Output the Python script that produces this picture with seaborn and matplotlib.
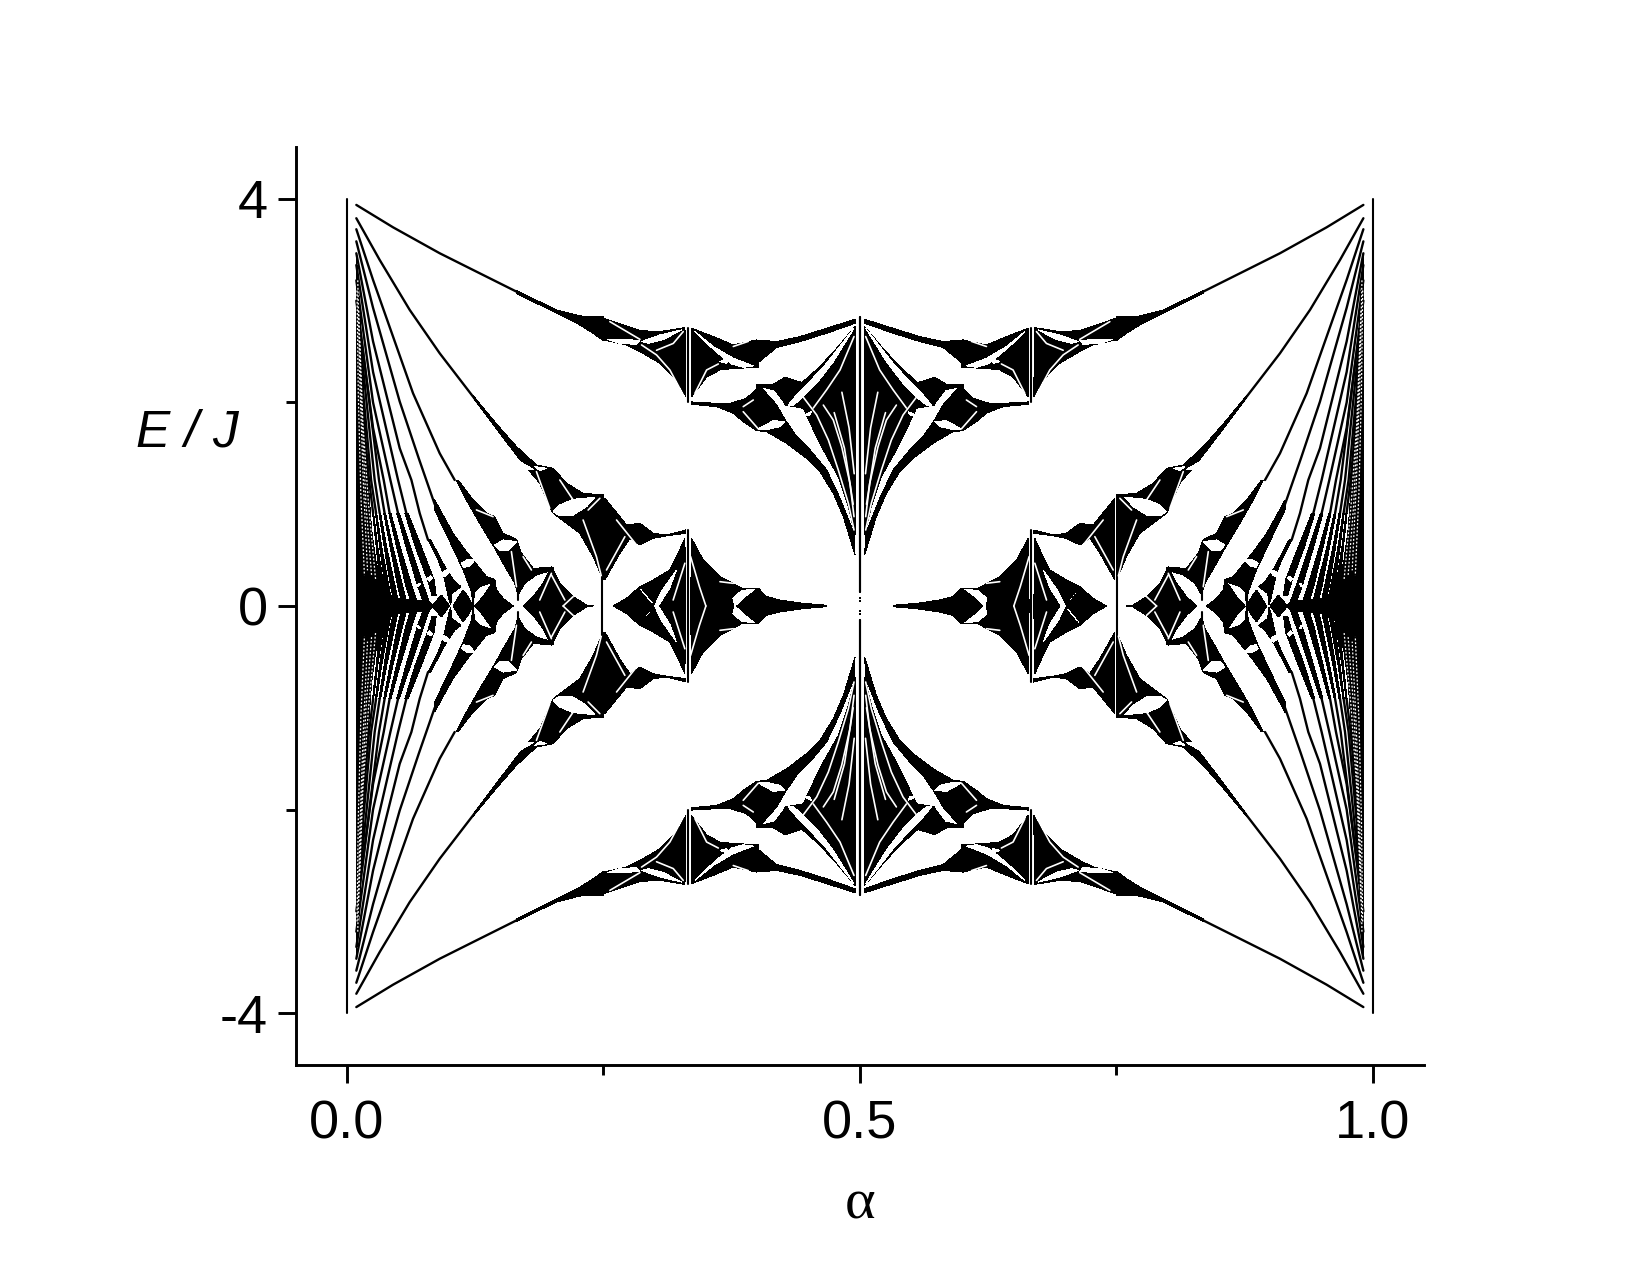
import matplotlib
matplotlib.use("Agg")
import matplotlib.pyplot as plt
import pandas as pd
import seaborn as sns

# The picture is symmetric, so each one is also drawn flipped in alpha and E.

# thin bands running out of the corner
level_0 = [(.0091, 3.941), (.0449, 3.721), (.0904, 3.466), (.1229, 3.302), (.1652, 3.089)]
level_1 = [(.0091, 3.81), (.0319, 3.4), (.0611, 2.91), (.0904, 2.483), (.1229, 2.057), (.1457, 1.763)]
level_2 = [(.0091, 3.702), (.0254, 3.204), (.0449, 2.647), (.0644, 2.09), (.0904, 1.5), (.105, 1.238)]
level_3 = [(.0091, 3.583), (.0254, 2.93), (.0514, 2.009), (.07, 1.45), (.0855, 1.0)]
level_4 = [(.0091, 3.466), (.0254, 2.6), (.0514, 1.55), (.0628, 1.238), (.0709, .911), (.079, .649)]
level_5 = [(.0091, 3.35), (.0254, 2.3), (.0498, 1.238), (.0579, .911)]
level_6 = [(.0091, 3.2), (.0254, 2.0), (.0423, 1.238), (.0498, .911)]
level_7 = [(.0091, 3.0), (.0254, 1.75), (.0358, 1.238), (.0416, .911)]
level_8 = [(.012, 2.8), (.0312, 1.238), (.0367, .911)]
level_9 = [(.015, 2.4), (.027, 1.238), (.0319, .911)]
level_10 = [(.014, 2.3), (.0235, 1.238), (.0284, .911)]
level_11 = [(.013, 2.2), (.0215, 1.238), (.0255, .911)]

# the same bands where they widen near E = 0
ribbon_5 = [(.0565, .911), (.0665, .583), (.0785, .255), (.083, .1), (.087, .1), (.085, .255), (.0725, .583), (.0595, .911)]
ribbon_6 = [(.0485, .911), (.0575, .583), (.069, .19), (.074, .05), (.08, .05), (.075, .19), (.062, .583), (.051, .911)]
ribbon_7 = [(.0408, .911), (.0483, .583), (.0575, .19), (.062, .05), (.068, .05), (.0635, .19), (.0518, .583), (.0428, .911)]
ribbon_8 = [(.0358, .911), (.042, .583), (.0495, .19), (.053, .05), (.058, .05), (.0545, .19), (.0447, .583), (.0375, .911)]
ribbon_9 = [(.0312, .911), (.0362, .583), (.0425, .19), (.046, .05), (.05, .05), (.047, .19), (.0387, .583), (.0328, .911)]
ribbon_10 = [(.0278, .911), (.0318, .583), (.037, .19), (.04, .05), (.0435, .05), (.041, .19), (.0338, .583), (.029, .911)]
ribbon_11 = [(.025, .911), (.0285, .583), (.0325, .19), (.035, .05), (.0385, .05), (.036, .19), (.03, .583), (.026, .911)]

# black lobes
wing_top_a = [(.1652, 3.099), (.2042, 2.909), (.227, 2.85), (.2498, 2.84), (.2498, 2.608), (.24, 2.68),
              (.227, 2.762), (.201, 2.893), (.1652, 3.073)]
wing_top_b = [(.2504, 2.827), (.2693, 2.762), (.2856, 2.706), (.3051, 2.696), (.3295, 2.735), (.3305, 2.057),
              (.3213, 2.221), (.3051, 2.385), (.2856, 2.5), (.2725, 2.565), (.2504, 2.614)]
wing_top_c = [(.3359, 2.729), (.3571, 2.647), (.3766, 2.565), (.3993, 2.614), (.401, 2.346), (.3766, 2.333),
              (.3636, 2.32), (.3506, 2.248), (.3359, 2.057)]
wing_top_d = [(.3993, 2.614), (.4189, 2.598), (.4416, 2.647), (.4676, 2.729), (.4953, 2.817), (.4953, 2.778),
              (.4676, 2.68), (.4416, 2.598), (.4189, 2.541), (.4059, 2.434), (.3993, 2.378)]
wing_low_left = [(.3993, 2.179), (.4059, 2.123), (.4189, 1.975), (.4273, 1.828), (.4384, 1.664), (.4514, 1.533),
                 (.4676, 1.337), (.4807, 1.058), (.4943, .714), (.4953, .501), (.4839, .878), (.4741, 1.107),
                 (.4611, 1.32), (.4481, 1.451), (.4286, 1.599), (.4091, 1.713), (.3993, 1.723), (.3863, 1.812),
                 (.3766, 1.894), (.3603, 1.959), (.3359, 1.982), (.3359, 2.005), (.3717, 1.985), (.3895, 2.041),
                 (.3993, 2.133)]
wing_sliver = [(.3993, 2.179), (.4156, 2.179), (.427, 2.247), (.428, 1.975), (.417, 2.123), (.4026, 2.156)]
wing_centre = [(.427, 2.247), (.4436, 2.195), (.4611, 2.352), (.4774, 2.532), (.4953, 2.745), (.4953, .698),
               (.4888, .976), (.479, 1.271), (.4644, 1.533), (.4547, 1.73), (.4449, 1.943), (.427, 1.975)]
wing_b_left = [(.1229, 2.067), (.1457, 1.79), (.1652, 1.566), (.1847, 1.386), (.201, 1.353), (.214, 1.206),
               (.2302, 1.107), (.2498, 1.091), (.2498, .256), (.24, .485), (.227, .714), (.201, .911),
               (.1977, .976), (.188, 1.206), (.1701, 1.419), (.1457, 1.74), (.1229, 2.047)]
wing_b_right = [(.2514, 1.058), (.266, .878), (.2725, .796), (.2856, .812), (.2986, .714), (.3116, .698),
                (.3305, .747), (.3305, .714), (.3116, .69), (.2986, .665), (.2856, .6), (.2758, .665),
                (.266, .518), (.2514, .256)]
wing_2 = [(.1083, 1.238), (.1229, 1.042), (.1359, .911), (.1441, .878), (.1522, .714), (.1652, .655),
          (.1701, .518), (.1815, .37), (.201, .38), (.201, .354), (.1847, .305), (.1733, .223), (.1668, .108),
          (.1636, .223), (.1522, .419), (.1441, .567), (.1294, .812), (.1164, 1.042), (.1067, 1.238)]
wing_3 = [(.0855, 1.042), (.1034, .714), (.1164, .534), (.1229, .452), (.1359, .288), (.1441, .262),
          (.1441, .24), (.1294, .19), (.1245, .141), (.1229, 0), (.1213, .141), (.1132, .354), (.1034, .567),
          (.0855, .943)]
wing_4 = [(.0816, .649), (.092, .452), (.0969, .36), (.105, .239), (.1111, .19), (.1024, .124), (.1011, .01),
          (.0992, .075), (.0937, .321), (.0888, .452), (.079, .649)]

# black lobes sitting on E = 0
node_a = [(.1245, 0), (.1327, .092), (.1441, .262), (.1457, .157), (.1522, .075), (.162, 0)]
node_b = [(.1717, 0), (.1815, .092), (.1912, .223), (.1993, .387), (.2075, .223), (.2205, .092), (.2335, .01), (.24, 0)]
node_c = [(.2595, 0), (.2725, .075), (.2855, .19), (.2986, .256), (.3148, .354), (.3213, .485), (.3294, .665), (.3304, 0)]
node_d = [(.3359, .665), (.3473, .452), (.3636, .288), (.3733, .239), (.3847, .174), (.401, .174), (.4091, .092),
          (.4221, .059), (.4449, .026), (.4676, .007), (.4676, 0), (.335, 0)]
node_e = [(.1034, 0), (.1099, .108), (.1132, .157), (.118, .092), (.1229, 0)]
node_f = [(.083, 0), (.092, .108), (.1, 0)]
dense_fan = [(.0091, 0), (.0091, 3.45), (.012, 3.0), (.0145, 2.5), (.0175, 1.8), (.0205, 1.24), (.024, .75),
             (.028, .45), (.035, .15), (.05, .07), (.0628, .06), (.079, .05), (.0848, 0)]

# white holes cut from the lobes
eye_top_a = [(.2537, 2.62), (.2693, 2.62), (.2856, 2.608), (.2823, 2.571), (.266, 2.58)]
eye_top_b = [(.2872, 2.598), (.3051, 2.663), (.3262, 2.713), (.3083, 2.617), (.2937, 2.581)]
bow_top = [(.3392, 2.696), (.3571, 2.549), (.3766, 2.434), (.3961, 2.359), (.3863, 2.346), (.375, 2.378),
           (.3636, 2.467), (.3506, 2.582)]
eye_small = [(.3636, 2.401), (.3733, 2.441), (.3701, 2.385)]
eye_low = [(.401, 1.74), (.4156, 1.821), (.427, 1.811), (.4221, 1.762), (.4075, 1.73)]
bow_centre = [(.4302, 1.975), (.4384, 2.074), (.4481, 2.172), (.4676, 2.385), (.4943, 2.729), (.4741, 2.401),
              (.4579, 2.188), (.4433, 2.041), (.4345, 1.969)]
eye_centre = [(.4433, 1.867), (.453, 1.91), (.4514, 1.877)]
blob_b = [(.201, .927), (.2075, .993), (.2205, 1.048), (.2416, 1.068), (.2335, .976), (.2205, .894), (.206, .894)]
eye_b1 = [(.1701, 1.409), (.1815, 1.343), (.1766, 1.343)]
eye_b2 = [(.1831, 1.369), (.1945, 1.353), (.188, 1.33)]
eye_2 = [(.1441, .6), (.1522, .649), (.1652, .632), (.1571, .55), (.1489, .544)]
eye_3 = [(.1115, .419), (.118, .459), (.1245, .452), (.1196, .393), (.1138, .38)]
eye_4 = [(.092, .321), (.0969, .354), (.1, .337), (.0969, .298), (.093, .288)]
eye_5 = [(.078, .27), (.0815, .295), (.083, .275), (.0805, .245)]
eye_6 = [(.0685, .2), (.0705, .225), (.0715, .215), (.0695, .19)]
leaf_d = [(.3762, .075), (.3847, .151), (.3977, .167), (.388, .092), (.3782, 0)]
petal_c1 = [(.2999, 0), (.3064, .14), (.321, .35), (.3148, .18), (.3035, 0)]
petal_c2 = [(.2999, 0), (.2855, .175), (.2925, .09)]

# thin white cracks
crack_1 = [(.2563, 2.794), (.2856, 2.62)]
crack_2 = [(.2872, 2.565), (.3018, 2.467), (.3148, 2.319), (.3278, 2.074)]
crack_3 = [(.3018, 2.513), (.3181, 2.58), (.3278, 2.696)]
crack_4 = [(.3392, 2.09), (.3506, 2.319), (.362, 2.378)]
crack_5 = [(.3766, 2.55), (.3912, 2.6)]
crack_6 = [(.3863, 1.909), (.401, 1.74)]
crack_7 = [(.3863, 1.959), (.3961, 2.024)]
crack_8 = [(.4546, 1.945), (.4676, 2.124), (.4807, 2.32), (.4943, 2.647)]
crack_9 = [(.4449, 2.051), (.4579, 1.877), (.4693, 1.631), (.479, 1.336), (.4888, 1.009), (.4943, .747)]
crack_10 = [(.4644, 1.974), (.4741, 1.827), (.4823, 1.565), (.4904, 1.205), (.4943, .878)]
crack_11 = [(.1847, 1.32), (.1977, .96)]
crack_12 = [(.2075, 1.238), (.2205, 1.042)]
crack_13 = [(.2351, .943), (.2465, 1.058)]
crack_14 = [(.2302, .845), (.2432, .485), (.2481, .288)]
crack_15 = [(.2628, .845), (.2823, .6)]
crack_16 = [(.2709, .681), (.253, .354)]
crack_17 = [(.1262, .944), (.1424, .878)]
crack_18 = [(.1603, .534), (.1652, .19)]
crack_19 = [(.1717, .485), (.1798, .354)]
crack_20 = [(.1993, .321), (.1879, .059)]
crack_21 = [(.1993, .305), (.2124, .059)]
crack_22 = [(.3294, .42), (.318, .059)]
crack_23 = [(.335, .485), (.3436, .19), (.3499, 0)]
crack_24 = [(.3636, .239), (.3766, .223)]
crack_25 = [(.2107, 0), (.2205, .092)]
crack_26 = [(.475, 1.9), (.485, 1.55), (.4935, 1.0)]
crack_27 = [(.4825, 2.1), (.4895, 1.75), (.4945, 1.3)]

# dotted white streaks in the dense fan
streak_1 = [(.0105, 3.2), (.0125, 2.2), (.016, 1.2), (.02, .35)]
streak_2 = [(.0115, 2.9), (.014, 2.0), (.0185, 1.0), (.024, .3)]
streak_3 = [(.0125, 2.6), (.0155, 1.8), (.021, 1.0), (.028, .25)]
streak_4 = [(.0098, 3.1), (.011, 2.1), (.0135, 1.1), (.017, .3)]

# straight bars: alpha, E from, E to
bar_alpha = [0.0, .4999, .3327, .3327, .2491, .1668, .1229]
bar_from = [0.0, .14, 2.0, 0.0, 0.0, .059, 0.0]
bar_to = [4.0, 2.837, 2.73, .747, .288, .157, .14]

x_major = [0.0, 0.5, 1.0]
x_minor = [0.25, 0.75]
x_labels = ["0.0", "0.5", "1.0"]
y_major = [-4, 0, 4]
y_minor = [-2, 2]
y_labels = ["-4", "0", "4"]

black_lobes = [wing_top_a, wing_top_b, wing_top_c, wing_top_d, wing_low_left, wing_sliver, wing_centre,
               wing_b_left, wing_b_right, wing_2, wing_3, wing_4, node_a, node_b, node_c, node_d, node_e,
               node_f, dense_fan, ribbon_5, ribbon_6, ribbon_7, ribbon_8, ribbon_9, ribbon_10, ribbon_11]
white_holes = [eye_top_a, eye_top_b, bow_top, eye_small, eye_low, bow_centre, eye_centre, blob_b, eye_b1,
               eye_b2, eye_2, eye_3, eye_4, eye_5, eye_6, leaf_d, petal_c1, petal_c2]
black_lines = [level_0, level_1, level_2, level_3, level_4, level_5, level_6, level_7, level_8, level_9,
               level_10, level_11]
white_lines = [crack_1, crack_2, crack_3, crack_4, crack_5, crack_6, crack_7, crack_8, crack_9, crack_10,
               crack_11, crack_12, crack_13, crack_14, crack_15, crack_16, crack_17, crack_18, crack_19,
               crack_20, crack_21, crack_22, crack_23, crack_24, crack_25, crack_26, crack_27]
white_streaks = [streak_1, streak_2, streak_3, streak_4]


def flips(shape):
    """Yield the shape in all four quarters of the plot"""
    for flip_a in (False, True):
        for flip_e in (False, True):
            yield [(1 - a if flip_a else a, -e if flip_e else e) for a, e in shape]


def fill_shapes(ax, shapes, color):
    for shape in shapes:
        for pts in flips(shape):
            xs, ys = zip(*pts)
            ax.fill(xs, ys, color=color, lw=0, antialiased=False, zorder=2 if color == "black" else 3)


def draw_lines(ax, shapes, color, lw, zorder, **kwargs):
    rows = []
    line_id = 0
    for shape in shapes:
        for pts in flips(shape):
            for a, e in pts:
                rows.append({"alpha": a, "E": e, "line": line_id})
            line_id += 1
    df = pd.DataFrame(rows)
    sns.lineplot(data=df, x="alpha", y="E", units="line", estimator=None, sort=False, color=color,
                 lw=lw, legend=False, ax=ax, zorder=zorder, **kwargs)


sns.set_style("ticks")
plt.rcParams["font.family"] = ["Liberation Sans", "DejaVu Sans"]
plt.rcParams["text.color"] = "black"
plt.rcParams["axes.labelcolor"] = "black"

fig = plt.figure(figsize=(16.5, 12.74), dpi=100)
ax = fig.add_axes([295.7 / 1650, 1 - 1065 / 1274, (1424 - 295.7) / 1650, (1065 - 147) / 1274])

fill_shapes(ax, black_lobes, "black")
draw_lines(ax, black_lines, "black", 1.7, 2)
fill_shapes(ax, white_holes, "white")
draw_lines(ax, white_lines, "white", 1.2, 4)
draw_lines(ax, white_streaks, "white", 0.9, 4, linestyle=(0, (1.5, 1.5)))

bars = [[(a, lo), (a, hi)] for a, lo, hi in zip(bar_alpha, bar_from, bar_to)]
draw_lines(ax, bars, "black", 1.5, 5)
# dots under the centre bar
ax.scatter([.4999] * 4, [.08, .05, -.05, -.08], s=4, color="black", marker="s", lw=0, zorder=5)

ax.set_xlim(-.05, 1.05)
ax.set_ylim(-4.51, 4.51)
ax.set_xticks(x_major)
ax.set_xticklabels(x_labels)
ax.set_xticks(x_minor, minor=True)
ax.set_yticks(y_major)
ax.set_yticklabels(y_labels)
ax.set_yticks(y_minor, minor=True)
ax.tick_params(axis="both", which="major", length=13, width=2.1, labelsize=39, color="black", labelcolor="black")
ax.tick_params(axis="both", which="minor", length=7, width=2.1, color="black")
ax.tick_params(axis="x", which="major", pad=12)
ax.tick_params(axis="y", which="major", pad=7)

ax.set_xlabel("α", fontsize=42, family="Liberation Serif", va="center")
ax.xaxis.set_label_coords(.5, -.1525)
ax.set_ylabel("E / J", fontsize=37, style="italic", rotation=0, ha="center", va="center")
ax.yaxis.set_label_coords(-.0963, .688)

sns.despine(ax=ax)
for side in ("left", "bottom"):
    ax.spines[side].set_linewidth(2.1)
    ax.spines[side].set_color("black")

fig.savefig("out.png", dpi=100, facecolor="white")
